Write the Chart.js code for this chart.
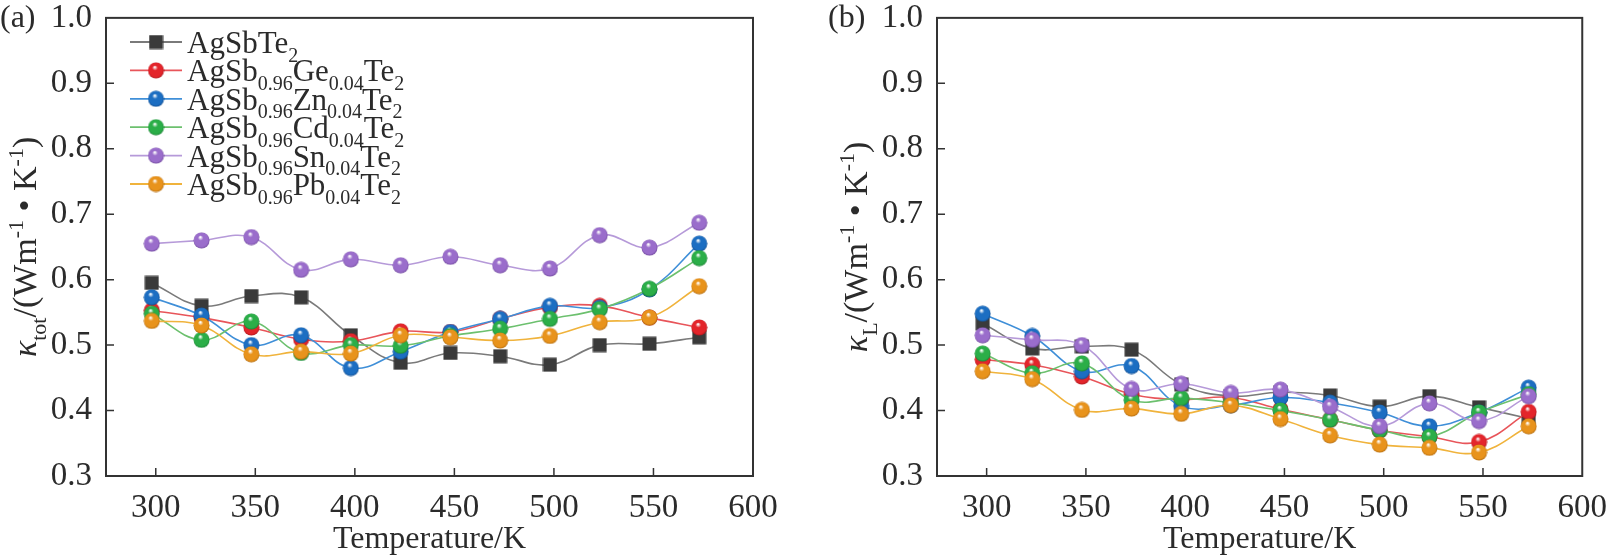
<!DOCTYPE html>
<html><head><meta charset="utf-8">
<script src="https://cdn.jsdelivr.net/npm/chart.js@4.4.1/dist/chart.umd.min.js"></script>
<style>
html,body{margin:0;padding:0;background:#fff;}
#wrap{position:relative;width:1612px;height:559px;overflow:hidden;}
.pane{position:absolute;top:0;width:806px;height:559px;}
</style></head><body>
<div id="wrap">
  <div class="pane" style="left:0"><canvas id="ca"></canvas></div>
  <div class="pane" style="left:806px"><canvas id="cb"></canvas></div>
</div>
<script>
// ---------- data ----------
const temperatures = [298, 323, 348, 373, 398, 423, 448, 473, 498, 523, 548, 573];
const xTickValues = [300, 350, 400, 450, 500, 550, 600];
const yTickValues = [0.3, 0.4, 0.5, 0.6, 0.7, 0.8, 0.9, 1.0];
const xTitle = 'Temperature/K';
const panelLabels = ['(a)', '(b)'];

// legend names as rich-text segments: n = normal, s = subscript
const seriesNames = [
  [['AgSbTe','n'],['2','s']],
  [['AgSb','n'],['0.96','s'],['Ge','n'],['0.04','s'],['Te','n'],['2','s']],
  [['AgSb','n'],['0.96','s'],['Zn','n'],['0.04','s'],['Te','n'],['2','s']],
  [['AgSb','n'],['0.96','s'],['Cd','n'],['0.04','s'],['Te','n'],['2','s']],
  [['AgSb','n'],['0.96','s'],['Sn','n'],['0.04','s'],['Te','n'],['2','s']],
  [['AgSb','n'],['0.96','s'],['Pb','n'],['0.04','s'],['Te','n'],['2','s']]
];
const yTitleA = [['κ','i'],['tot','s'],['/(Wm','n'],['-1','p'],[' • K','n'],['-1','p'],[')','n']];
const yTitleB = [['κ','i'],['L','s'],['/(Wm','n'],['-1','p'],[' • K','n'],['-1','p'],[')','n']];

// (a) total thermal conductivity
const totAgSbTe2 = [0.595, 0.560, 0.575, 0.573, 0.515, 0.473, 0.488, 0.483, 0.470, 0.500, 0.502, 0.512];
const totGe      = [0.553, 0.542, 0.527, 0.509, 0.506, 0.521, 0.520, 0.540, 0.558, 0.560, 0.542, 0.527];
const totZn      = [0.573, 0.545, 0.500, 0.515, 0.465, 0.490, 0.520, 0.540, 0.560, 0.557, 0.585, 0.655];
const totCd      = [0.548, 0.508, 0.536, 0.488, 0.500, 0.499, 0.514, 0.525, 0.540, 0.555, 0.586, 0.633];
const totSn      = [0.655, 0.660, 0.665, 0.615, 0.631, 0.622, 0.635, 0.622, 0.617, 0.668, 0.649, 0.687];
const totPb      = [0.537, 0.530, 0.486, 0.490, 0.487, 0.515, 0.512, 0.507, 0.514, 0.535, 0.542, 0.590];

// (b) lattice thermal conductivity
const latAgSbTe2 = [0.533, 0.495, 0.498, 0.493, 0.440, 0.422, 0.428, 0.423, 0.406, 0.422, 0.405, 0.388];
const latGe      = [0.478, 0.470, 0.452, 0.425, 0.417, 0.420, 0.402, 0.386, 0.370, 0.360, 0.352, 0.398];
const latZn      = [0.548, 0.514, 0.460, 0.468, 0.407, 0.408, 0.420, 0.412, 0.397, 0.376, 0.397, 0.435];
const latCd      = [0.487, 0.457, 0.472, 0.416, 0.419, 0.412, 0.400, 0.386, 0.370, 0.360, 0.397, 0.425];
const latSn      = [0.515, 0.508, 0.500, 0.433, 0.441, 0.427, 0.432, 0.406, 0.376, 0.411, 0.384, 0.422];
const latPb      = [0.460, 0.448, 0.401, 0.403, 0.395, 0.408, 0.387, 0.362, 0.348, 0.343, 0.336, 0.376];

// ---------- styles ----------
const markerColors = ['#3a3a3a', '#e3252b', '#1c6ec2', '#2bae48', '#9a6dcb', '#e8931c'];
const darkColors   = ['#222222', '#a3141a', '#0e4584', '#16782e', '#6a4296', '#a8620a'];
const lineColors   = ['#7a7a7a', '#e8555a', '#3f8fd8', '#6cc06e', '#b69ad9', '#f0b33c'];
const SERIF = "'Liberation Serif', 'DejaVu Serif', serif";
const TEXT = '#2b2b2b';

function sphere(color, dark, d) {
  const c = document.createElement('canvas');
  c.width = d; c.height = d;
  const g = c.getContext('2d');
  const r = d / 2;
  const grad = g.createRadialGradient(r * 0.85, r * 0.6, r * 0.05, r, r, r);
  grad.addColorStop(0, '#ffffff');
  grad.addColorStop(0.28, color);
  grad.addColorStop(0.8, color);
  grad.addColorStop(1, dark);
  g.fillStyle = grad;
  g.beginPath(); g.arc(r, r, r - 0.5, 0, Math.PI * 2); g.fill();
  return c;
}
function square(color, d) {
  const c = document.createElement('canvas');
  c.width = d; c.height = d;
  const g = c.getContext('2d');
  g.fillStyle = color;
  g.fillRect(0.5, 0.5, d - 1, d - 1);
  return c;
}
const markerImgs = markerColors.map((c, i) => i === 0 ? square(c, 15) : sphere(c, darkColors[i], 17));

// ---------- rich text ----------
function segFont(kind, size) {
  const sub = Math.round(size * 0.66);
  if (kind === 'i') return `italic ${size}px ${SERIF}`;
  if (kind === 's' || kind === 'p') return `${sub}px ${SERIF}`;
  return `${size}px ${SERIF}`;
}
function richWidth(ctx, segs, size) {
  let w = 0;
  segs.forEach(([t, k]) => { ctx.font = segFont(k, size); w += ctx.measureText(t).width; });
  return w;
}
function drawRich(ctx, segs, x, y, size) {
  ctx.textBaseline = 'alphabetic';
  ctx.textAlign = 'left';
  segs.forEach(([t, k]) => {
    ctx.font = segFont(k, size);
    let dy = 0;
    if (k === 's') dy = size * 0.28;
    if (k === 'p') dy = -size * 0.38;
    ctx.fillText(t, x, y + dy);
    x += ctx.measureText(t).width;
  });
  return x;
}

// ---------- decorations plugin ----------
const deco = {
  id: 'deco',
  afterDraw(chart, args, o) {
    const { ctx, chartArea: { left, right, top, bottom }, scales: { x, y } } = chart;
    ctx.save();
    ctx.strokeStyle = '#333';
    ctx.lineWidth = 2;
    ctx.strokeRect(left, top, right - left, bottom - top);
    ctx.lineWidth = 1.5;
    ctx.beginPath();
    xTickValues.forEach(v => {
      const px = x.getPixelForValue(v);
      if (px < right - 2) { ctx.moveTo(px, bottom); ctx.lineTo(px, bottom - 8); }
    });
    yTickValues.forEach(v => {
      const py = y.getPixelForValue(v);
      if (py > top + 2 && py < bottom - 2) { ctx.moveTo(left, py); ctx.lineTo(left + 8, py); }
    });
    ctx.stroke();

    ctx.fillStyle = TEXT;
    // panel label
    ctx.font = `32px ${SERIF}`;
    ctx.textAlign = 'left'; ctx.textBaseline = 'alphabetic';
    ctx.fillText(o.label, o.labelX, 27);

    // y title (rotated)
    const size = 34;
    const w = richWidth(ctx, o.ytitle, size);
    ctx.save();
    ctx.translate(left - o.titleOffset, (top + bottom) / 2);
    ctx.rotate(-Math.PI / 2);
    drawRich(ctx, o.ytitle, -w / 2, 0, size);
    ctx.restore();

    // legend
    if (o.legend) {
      const lx0 = 130, lx1 = 182, tx = 187, y0 = 42, dyL = 28.4;
      seriesNames.forEach((segs, i) => {
        const cy = y0 + i * dyL;
        ctx.strokeStyle = lineColors[i];
        ctx.lineWidth = 1.8;
        ctx.beginPath(); ctx.moveTo(lx0, cy); ctx.lineTo(lx1, cy); ctx.stroke();
        const img = markerImgs[i];
        ctx.drawImage(img, (lx0 + lx1) / 2 - img.width / 2, cy - img.height / 2);
        ctx.fillStyle = TEXT;
        drawRich(ctx, segs, tx, cy + 11, 31);
      });
    }
    ctx.restore();
  }
};

function makeChart(id, series, yAxisWidth, padRight, decoOpts) {
  const n = series.length;
  const datasets = series.map((vals, i) => ({
    data: temperatures.map((t, j) => ({ x: t, y: vals[j] })),
    borderColor: lineColors[i],
    borderWidth: 1.6,
    tension: 0.4,
    pointStyle: markerImgs[i],
    pointRadius: 8,
    pointHoverRadius: 8,
    fill: false,
    order: n - i
  }));
  return new Chart(document.getElementById(id), {
    type: 'line',
    data: { datasets },
    plugins: [deco],
    options: {
      responsive: true,
      maintainAspectRatio: false,
      animation: false,
      layout: { padding: { top: 12, right: padRight, bottom: 0, left: 0 } },
      plugins: { legend: { display: false }, tooltip: { enabled: false }, deco: decoOpts },
      scales: {
        x: {
          type: 'linear', min: 275, max: 600,
          afterBuildTicks: s => { s.ticks = xTickValues.map(v => ({ value: v })); },
          afterFit: s => { s.height = 83; },
          grid: { display: false }, border: { display: false },
          ticks: { font: { family: SERIF, size: 33 }, color: TEXT, padding: 5, maxRotation: 0, autoSkip: false },
          title: { display: true, text: xTitle, font: { family: SERIF, size: 32 }, color: TEXT, padding: 0 }
        },
        y: {
          type: 'linear', min: 0.3, max: 1.0,
          afterBuildTicks: s => { s.ticks = yTickValues.map(v => ({ value: v })); },
          afterFit: s => { s.width = yAxisWidth; },
          grid: { display: false }, border: { display: false },
          ticks: { font: { family: SERIF, size: 33, lineHeight: 0.72 }, color: TEXT, padding: 6,
                   callback: v => Number(v).toFixed(1) }
        }
      }
    }
  });
}

makeChart('ca', [totAgSbTe2, totGe, totZn, totCd, totSn, totPb], 106, 53,
  { label: panelLabels[0], labelX: 0, ytitle: yTitleA, titleOffset: 70, legend: true });
makeChart('cb', [latAgSbTe2, latGe, latZn, latCd, latSn, latPb], 131, 26,
  { label: panelLabels[1], labelX: 22, ytitle: yTitleB, titleOffset: 70, legend: false });
</script>
</body></html>
